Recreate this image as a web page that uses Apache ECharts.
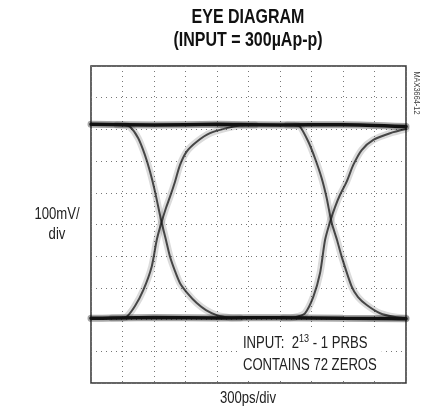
<!DOCTYPE html>
<html>
<head>
<meta charset="utf-8">
<script src="https://cdn.jsdelivr.net/npm/echarts@6.0.0/dist/echarts.min.js"></script>
<style>
html,body{margin:0;padding:0;background:#fff;}
#chart{width:424px;height:417px;}
</style>
</head>
<body>
<div id="chart"></div>
<script>
// ---- data (x in ps, y in mV; 300 ps/div, 100 mV/div) ----
var X_TICKS = [0, 300, 600, 900, 1200, 1500, 1800, 2100, 2400, 2700, 3000];
var Y_TICKS = [-500, -400, -300, -200, -100, 0, 100, 200, 300, 400, 500];

var HIGH_LEVEL = [[0,316],[600,314],[1200,316],[1800,314],[2400,315],[3000,309]];
var LOW_LEVEL  = [[0,-296],[600,-293],[1200,-295],[1800,-294],[2400,-296],[3000,-297]];

var FALL_1 = [[250,314],[314,313],[371,308],[450,272],[514,219],[562,167],[610,103],[657,30],[676,2],[714,-49],[752,-101],[800,-147],[848,-185],[924,-219],[1007,-248],[1095,-270],[1197,-286],[1324,-294],[1420,-295]];
var RISE_1 = [[200,-295],[276,-295],[340,-291],[419,-257],[498,-207],[578,-133],[626,-49],[667,2],[714,52],[752,87],[800,135],[848,188],[911,230],[1007,261],[1133,288],[1292,304],[1420,312],[1560,314]];
var FALL_2 = [[1870,314],[1933,313],[1990,309],[2070,261],[2133,209],[2197,146],[2245,83],[2276,30],[2295,2],[2343,-49],[2388,-102],[2483,-196],[2543,-229],[2626,-254],[2752,-280],[2895,-292],[3000,-295]];
var RISE_2 = [[1830,-295],[1895,-295],[1971,-290],[2038,-280],[2117,-228],[2181,-154],[2229,-49],[2276,8],[2324,55],[2371,93],[2435,135],[2498,188],[2578,235],[2689,267],[2848,288],[3000,301]];

var TITLE = 'EYE DIAGRAM\n(INPUT = 300\u00B5Ap-p)';
var Y_LABEL = '100mV/\ndiv';
var X_LABEL = '300ps/div';
var NOTE_1 = ['INPUT:  2', '13', ' - 1 PRBS'];
var NOTE_2 = 'CONTAINS 72 ZEROS';
var TAG = 'MAX3664-12';

// ---- chart ----
var FONT = "'Liberation Sans', Arial, sans-serif";
var NARROW_SCALE = 0.82;   // Arial-Narrow-like condensing
var chart = echarts.init(document.getElementById('chart'), null, {renderer: 'canvas'});

function trace(data, halo, core, haloColor, coreColor, z) {
  return [
    {type: 'line', data: data, showSymbol: false, smooth: 0.25, silent: true, z: z,
     lineStyle: {width: halo, color: haloColor, cap: 'round'}},
    {type: 'line', data: data, showSymbol: false, smooth: 0.25, silent: true, z: z + 1,
     lineStyle: {width: core, color: coreColor, cap: 'round'}}
  ];
}

var EDGE_HALO = 'rgba(0,0,0,0.14)';
var EDGE_CORE = 'rgba(20,20,20,0.75)';
var series = [].concat(
  trace(FALL_1, 7, 2, EDGE_HALO, EDGE_CORE, 2),
  trace(RISE_1, 7, 2, EDGE_HALO, EDGE_CORE, 2),
  trace(FALL_2, 7, 2, EDGE_HALO, EDGE_CORE, 2),
  trace(RISE_2, 7, 2, EDGE_HALO, EDGE_CORE, 2),
  trace(HIGH_LEVEL, 7, 3.5, 'rgba(0,0,0,0.35)', '#111', 4),
  trace(LOW_LEVEL, 7, 3.5, 'rgba(0,0,0,0.35)', '#111', 4)
);

var splitStyle = {show: true, lineStyle: {type: [1, 4], color: '#777', width: 1}};

chart.setOption({
  animation: false,
  backgroundColor: '#fff',
  grid: {left: 91, top: 66, width: 315, height: 317, show: true, borderColor: '#333', borderWidth: 1.5, backgroundColor: 'transparent'},
  xAxis: {
    type: 'value', min: X_TICKS[0], max: X_TICKS[X_TICKS.length - 1], interval: X_TICKS[1] - X_TICKS[0],
    axisLine: {show: false}, axisTick: {show: false}, axisLabel: {show: false}, splitLine: splitStyle
  },
  yAxis: {
    type: 'value', min: Y_TICKS[0], max: Y_TICKS[Y_TICKS.length - 1], interval: Y_TICKS[1] - Y_TICKS[0],
    axisLine: {show: false}, axisTick: {show: false}, axisLabel: {show: false}, splitLine: splitStyle
  },
  series: series,
  graphic: [
    {type: 'text', x: 248, y: 29, scaleX: NARROW_SCALE, z: 10,
     style: {text: TITLE, fontFamily: FONT, fontWeight: 'bold', fontSize: 19.5, lineHeight: 23, fill: '#111', align: 'center', verticalAlign: 'middle'}},
    {type: 'text', x: 57, y: 225, scaleX: NARROW_SCALE, z: 10,
     style: {text: Y_LABEL, fontFamily: FONT, fontSize: 16, lineHeight: 20, fill: '#222', align: 'center', verticalAlign: 'middle'}},
    {type: 'text', x: 248, y: 399, scaleX: NARROW_SCALE, z: 10,
     style: {text: X_LABEL, fontFamily: FONT, fontSize: 16, fill: '#222', align: 'center', verticalAlign: 'middle'}},
    {type: 'text', x: 238, y: 330, scaleX: NARROW_SCALE, z: 10,
     style: {
       text: '{a|' + NOTE_1[0] + '}{s|' + NOTE_1[1] + '}{a|' + NOTE_1[2] + '}\n{a|' + NOTE_2 + '}',
       rich: {
         a: {fontFamily: FONT, fontSize: 16, lineHeight: 21.5, fill: '#222', color: '#222'},
         s: {fontFamily: FONT, fontSize: 11, lineHeight: 21.5, fill: '#222', color: '#222', verticalAlign: 'top'}
       },
       backgroundColor: '#fff', padding: [3, 6, 4, 6],
       align: 'left', verticalAlign: 'top'
     }},
    {type: 'text', x: 416, y: 93, rotation: -Math.PI / 2, scaleX: NARROW_SCALE, z: 10,
     style: {text: TAG, fontFamily: FONT, fontSize: 9, fill: '#444', align: 'center', verticalAlign: 'middle'}}
  ]
});
</script>
</body>
</html>
